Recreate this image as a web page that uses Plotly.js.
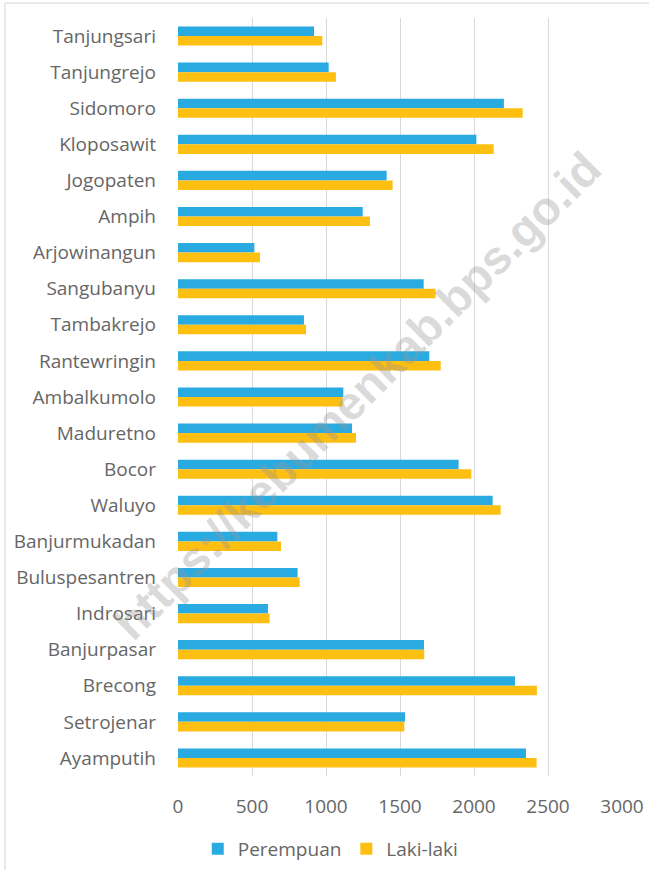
<!DOCTYPE html>
<html>
<head>
<meta charset="utf-8">
<script src="https://cdn.plot.ly/plotly-3.0.1.min.js"></script>
<style>html,body{margin:0;padding:0;background:#fff;}#chart{width:649px;height:870px;}</style>
</head>
<body>
<div id="chart"></div>
<script>
const categories = ["Tanjungsari","Tanjungrejo","Sidomoro","Kloposawit","Jogopaten","Ampih","Arjowinangun","Sangubanyu","Tambakrejo","Rantewringin","Ambalkumolo","Maduretno","Bocor","Waluyo","Banjurmukadan","Buluspesantren","Indrosari","Banjurpasar","Brecong","Setrojenar","Ayamputih"];
const perempuan = [919,1018,2202,2016,1410,1248,516,1660,851,1698,1117,1176,1896,2126,671,808,608,1662,2277,1534,2351];
const lakiLaki = [975,1067,2329,2133,1450,1297,554,1741,865,1775,1112,1203,1982,2180,696,822,619,1664,2425,1529,2423];
const seriesNames = ["Perempuan","Laki-laki"];
const xTicks = [0,500,1000,1500,2000,2500,3000];

const traces = [
  {type:'bar', orientation:'h', name:seriesNames[0], y:categories, x:perempuan, marker:{color:'#29ABE2'}},
  {type:'bar', orientation:'h', name:seriesNames[1], y:categories, x:lakiLaki, marker:{color:'#FDBF12'}}
];
const font = {family:'"Open Sans", "Noto Sans", sans-serif', color:'#666666'};
const border = '#E3E3E3';
const layout = {
  width:649, height:870,
  margin:{l:178, r:27, t:18, b:94, autoexpand:false},
  paper_bgcolor:'#fff', plot_bgcolor:'#fff',
  barmode:'group', bargap:0.47, bargroupgap:0,
  font:font,
  xaxis:{range:[0,3000], tickvals:xTicks, ticktext:xTicks.map(String), showgrid:true, gridcolor:'#D9D9D9', gridwidth:1,
         zeroline:false, showline:false, ticks:'', tickfont:{size:19, color:'#666666'}, ticklabelstandoff:17, automargin:false},
  yaxis:{type:'category', categoryorder:'array', categoryarray:categories, autorange:'reversed', showgrid:false, zeroline:false,
         showline:false, ticks:'', tickfont:{size:19, color:'#666666'}, ticklabelstandoff:21, automargin:false},
  legend:{orientation:'h', x:0.344, xanchor:'center', y:-0.0963, yanchor:'middle', font:{size:19, color:'#666666'},
          traceorder:'normal', itemwidth:30},
  showlegend:true,
  shapes:[
    {type:'line', xref:'paper', yref:'paper', x0:-0.3896, x1:1.07, y0:1.0198, y1:1.0198, line:{color:border, width:1.5}},
    {type:'line', xref:'paper', yref:'paper', x0:-0.3896, x1:-0.3896, y0:1.0198, y1:-0.13, line:{color:border, width:1.5}}
  ],
  annotations:[{text:'https://kebumenkab.bps.go.id', xref:'paper', yref:'paper', x:0.403, y:0.502, showarrow:false,
    textangle:-45, font:{size:47, color:'rgba(150,150,150,0.35)', family:'"Liberation Sans", Arial, sans-serif', weight:'bold'}}]
};
Plotly.newPlot('chart', traces, layout, {displayModeBar:false, staticPlot:true});
</script>
</body>
</html>
